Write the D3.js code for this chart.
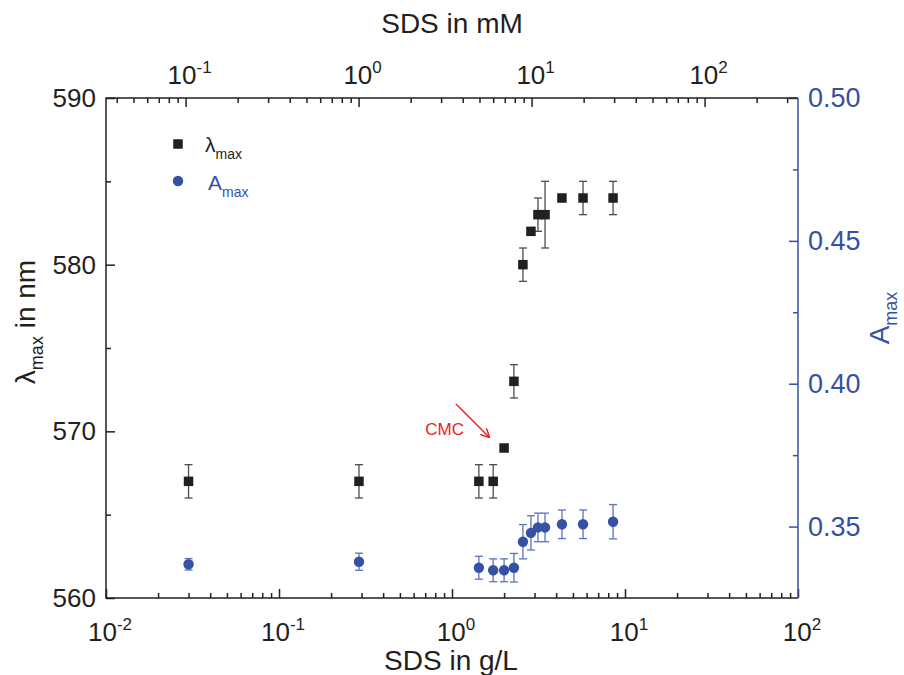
<!DOCTYPE html>
<html><head><meta charset="utf-8">
<script src="https://cdn.jsdelivr.net/npm/d3@7"></script>
<style>body{margin:0;background:#fff} text{font-family:"Liberation Sans",Arial,sans-serif}</style>
</head><body><svg id="c" width="904" height="675"></svg>
<script>
// ---- data ----
const sdsGL      = [0.03, 0.29, 1.43, 1.73, 2.0, 2.28, 2.57, 2.86, 3.14, 3.45, 4.32, 5.72, 8.53];
const lambdaMax  = [567, 567, 567, 567, 569, 573, 580, 582, 583, 583, 584, 584, 584];
const lambdaErr  = [1, 1, 1, 1, 0, 1, 1, 0, 1, 2, 0, 1, 1];
const aMax       = [0.3368, 0.3377, 0.3356, 0.3347, 0.3347, 0.3356, 0.3447, 0.3478, 0.3497, 0.3497, 0.3508, 0.3508, 0.3517];
const aErr       = [0.002, 0.003, 0.004, 0.004, 0.004, 0.005, 0.006, 0.006, 0.005, 0.005, 0.005, 0.005, 0.006];
const bottomExp  = [-2, -1, 0, 1, 2];
const topExp     = [-1, 0, 1, 2];
const leftTicks  = [560, 570, 580, 590];
const rightTicks = [0.35, 0.40, 0.45, 0.50];
const mMperGL = 1000 / 288.38;

// ---- layout ----
const L = 106, R = 798, T = 98, B = 598;
const BLACK = "#231f20", BLUE = "#3551a4", RED = "#ed1c24";
const svg = d3.select("#c");

const x = d3.scaleLog().domain([0.01, 100]).range([L, R]);
const xTop = d3.scaleLog().domain([0.01 * mMperGL, 100 * mMperGL]).range([L, R]);
const yL = d3.scaleLinear().domain([560, 590]).range([B, T]);
const yR = d3.scaleLinear().domain([0.325, 0.50]).range([B, T]);

function minorLog(scale) {
  const [a, b] = scale.domain();
  const out = [];
  for (let e = Math.floor(Math.log10(a)); e <= Math.ceil(Math.log10(b)); e++)
    for (let m = 2; m <= 9; m++) { const v = m * Math.pow(10, e); if (v > a && v < b) out.push(v); }
  return out;
}
function styleAxis(g, color) {
  g.select(".domain").remove();
  g.selectAll("line").attr("stroke", color).attr("stroke-width", 1.5);
}

// bottom axis
const gb = svg.append("g").attr("transform", `translate(0,${B})`);
gb.call(d3.axisBottom(x).tickValues(bottomExp.map(e => Math.pow(10, e))).tickSize(-9).tickFormat("")).call(g => styleAxis(g, BLACK));
gb.append("g").call(d3.axisBottom(x).tickValues(minorLog(x)).tickSize(-5).tickFormat("")).call(g => styleAxis(g, BLACK));

// top axis
const gt = svg.append("g").attr("transform", `translate(0,${T})`);
gt.call(d3.axisTop(xTop).tickValues(topExp.map(e => Math.pow(10, e))).tickSize(-9).tickFormat("")).call(g => styleAxis(g, BLACK));
gt.append("g").call(d3.axisTop(xTop).tickValues(minorLog(xTop)).tickSize(-5).tickFormat("")).call(g => styleAxis(g, BLACK));

// left axis
const gl = svg.append("g").attr("transform", `translate(${L},0)`);
gl.call(d3.axisLeft(yL).tickValues(leftTicks).tickSize(-9).tickFormat("")).call(g => styleAxis(g, BLACK));
gl.append("g").call(d3.axisLeft(yL).tickValues([565, 575, 585]).tickSize(-5).tickFormat("")).call(g => styleAxis(g, BLACK));

// right axis
const gr = svg.append("g").attr("transform", `translate(${R},0)`);
gr.call(d3.axisRight(yR).tickValues(rightTicks).tickSize(-9).tickFormat("")).call(g => styleAxis(g, BLUE));
gr.append("g").call(d3.axisRight(yR).tickValues([0.375, 0.425, 0.475]).tickSize(-5).tickFormat("")).call(g => styleAxis(g, BLUE));

// frame
svg.append("path").attr("d", `M${R},${T}H${L}V${B}H${R}`).attr("fill", "none").attr("stroke", BLACK).attr("stroke-width", 1.5);
svg.append("line").attr("x1", R).attr("x2", R).attr("y1", T).attr("y2", B).attr("stroke", BLUE).attr("stroke-width", 1.5);

// tick labels
const FS = 26, TFS = 28;
function powLabel(px, py, e, color) {
  const t = svg.append("text").attr("x", px).attr("y", py).attr("text-anchor", "middle").attr("fill", color).attr("font-size", FS);
  t.append("tspan").text("10");
  t.append("tspan").attr("font-size", 17).attr("dy", -11).text(e);
}
bottomExp.forEach(e => powLabel(x(Math.pow(10, e)) + 4, 641, e, BLACK));
topExp.forEach(e => powLabel(xTop(Math.pow(10, e)) + 4, 84, e, BLACK));
leftTicks.forEach(v => svg.append("text").attr("x", L - 10).attr("y", yL(v) + 9).attr("text-anchor", "end")
  .attr("font-size", FS).attr("fill", BLACK).text(v));
rightTicks.forEach(v => svg.append("text").attr("x", R + 10).attr("y", yR(v) + 9).attr("text-anchor", "start")
  .attr("font-size", 27).attr("fill", BLUE).text(v.toFixed(2)));

// axis titles
svg.append("text").attr("x", (L + R) / 2 - 1).attr("y", 670).attr("text-anchor", "middle").attr("font-size", TFS).attr("fill", BLACK).text("SDS in g/L");
svg.append("text").attr("x", (L + R) / 2).attr("y", 33).attr("text-anchor", "middle").attr("font-size", TFS).attr("fill", BLACK).text("SDS in mM");
const lt = svg.append("text").attr("transform", `translate(35,322) rotate(-90)`).attr("text-anchor", "middle").attr("font-size", TFS).attr("fill", BLACK);
lt.append("tspan").text("λ");
lt.append("tspan").attr("font-size", 18).attr("dy", 8).text("max");
lt.append("tspan").attr("dy", -8).text(" in nm");
const rt = svg.append("text").attr("transform", `translate(889,318) rotate(-90)`).attr("text-anchor", "middle").attr("font-size", TFS).attr("fill", BLUE);
rt.append("tspan").text("A");
rt.append("tspan").attr("font-size", 18).attr("dy", 8).text("max");

// data
const data = sdsGL.map((g, i) => ({ g, l: lambdaMax[i], le: lambdaErr[i], a: aMax[i], ae: aErr[i] }));
const cap = 4;
// lambda error bars
const eb1 = svg.append("g").attr("stroke", "#4d4d4f").attr("stroke-width", 1.3);
data.filter(d => d.le > 0).forEach(d => {
  const cx = x(d.g), y1 = yL(d.l + d.le), y2 = yL(d.l - d.le);
  eb1.append("line").attr("x1", cx).attr("x2", cx).attr("y1", y1).attr("y2", y2);
  eb1.append("line").attr("x1", cx - cap).attr("x2", cx + cap).attr("y1", y1).attr("y2", y1);
  eb1.append("line").attr("x1", cx - cap).attr("x2", cx + cap).attr("y1", y2).attr("y2", y2);
});
// A error bars
const eb2 = svg.append("g").attr("stroke", "#5a73bd").attr("stroke-width", 1.3);
data.forEach(d => {
  const cx = x(d.g), y1 = yR(d.a + d.ae), y2 = yR(d.a - d.ae);
  eb2.append("line").attr("x1", cx).attr("x2", cx).attr("y1", y1).attr("y2", y2);
  eb2.append("line").attr("x1", cx - cap).attr("x2", cx + cap).attr("y1", y1).attr("y2", y1);
  eb2.append("line").attr("x1", cx - cap).attr("x2", cx + cap).attr("y1", y2).attr("y2", y2);
});
const S = 9.5;
svg.append("g").selectAll("rect").data(data).join("rect")
  .attr("x", d => x(d.g) - S / 2).attr("y", d => yL(d.l) - S / 2).attr("width", S).attr("height", S).attr("fill", BLACK);
svg.append("g").selectAll("circle").data(data).join("circle")
  .attr("cx", d => x(d.g)).attr("cy", d => yR(d.a)).attr("r", 5.2).attr("fill", BLUE);

// legend
svg.append("rect").attr("x", 178 - S / 2).attr("y", 144 - S / 2).attr("width", S).attr("height", S).attr("fill", BLACK);
const lg1 = svg.append("text").attr("x", 205).attr("y", 152).attr("font-size", 21).attr("fill", BLACK);
lg1.append("tspan").text("λ");
lg1.append("tspan").attr("font-size", 14).attr("dy", 7).text("max");
svg.append("circle").attr("cx", 178).attr("cy", 181).attr("r", 5.2).attr("fill", BLUE);
const lg2 = svg.append("text").attr("x", 208).attr("y", 190).attr("font-size", 21).attr("fill", BLUE);
lg2.append("tspan").text("A");
lg2.append("tspan").attr("font-size", 14).attr("dy", 7).text("max");

// CMC annotation
const defs = svg.append("defs");
defs.append("marker").attr("id", "ah").attr("viewBox", "0 0 10 10").attr("refX", 9).attr("refY", 5)
  .attr("markerWidth", 9).attr("markerHeight", 9).attr("markerUnits", "userSpaceOnUse").attr("orient", "auto")
  .append("path").attr("d", "M0,0 L10,5 L0,10").attr("fill", "none").attr("stroke", RED).attr("stroke-width", 1.6);
svg.append("line").attr("x1", 456).attr("y1", 404).attr("x2", 489).attr("y2", 437)
  .attr("stroke", RED).attr("stroke-width", 1.5).attr("marker-end", "url(#ah)");
svg.append("text").attr("x", 464).attr("y", 435).attr("text-anchor", "end").attr("font-size", 17).attr("fill", RED).text("CMC");
</script></body></html>
